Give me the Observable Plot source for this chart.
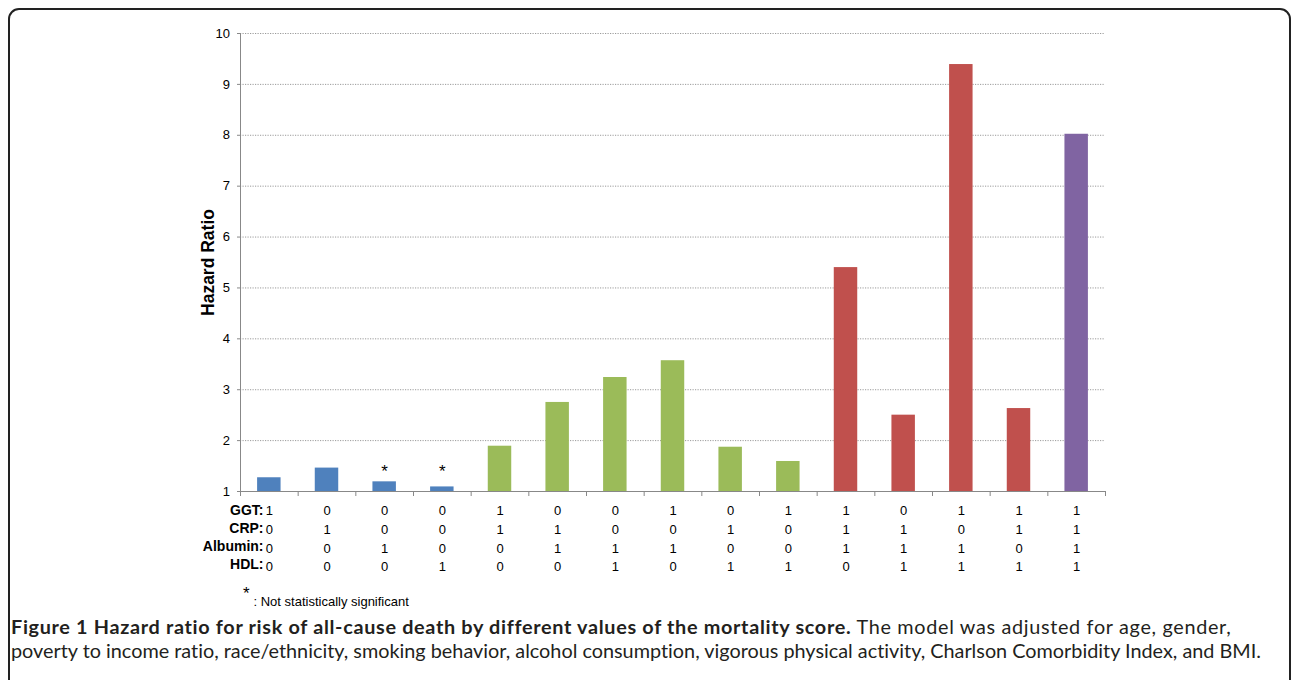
<!DOCTYPE html>
<html><head><meta charset="utf-8">
<script src="https://cdn.jsdelivr.net/npm/d3@7"></script>
<script src="https://cdn.jsdelivr.net/npm/@observablehq/plot@0.6"></script>
<style>
html,body{margin:0;padding:0;background:#fff;width:1292px;height:680px;overflow:hidden;}
#frame{position:absolute;left:8px;top:8px;width:1283px;height:720px;box-sizing:border-box;border:2px solid #222;border-radius:11px;}
#chart{position:absolute;left:0;top:0;}
#caption{position:absolute;left:11px;top:614px;font-family:Lato,"Open Sans",sans-serif;font-size:18px;line-height:24px;color:#231f20;white-space:nowrap;}
#caption b{font-weight:700}
g[aria-label="y-axis tick"], g[aria-label="x-axis tick"]{color:#888}
g[aria-label="y-axis"] line, g[aria-label="x-axis"] line{stroke:#888}
</style></head><body>
<div id="frame"></div>
<div id="chart"></div>
<div id="caption">
<div><span id="capb"><b>Figure 1 Hazard ratio for risk of all-cause death by different values of the mortality score.</b></span><span id="capn"> The model was adjusted for age, gender,</span></div>
<div><span id="cap2">poverty to income ratio, race/ethnicity, smoking behavior, alcohol consumption, vigorous physical activity, Charlson Comorbidity Index, and BMI.</span></div>
</div>
<script>
// ---- data ----
const categories = ["1","2","3","4","5","6","7","8","9","10","11","12","13","14","15"];
const hazardRatio = [1.27, 1.46, 1.19, 1.09, 1.89, 2.75, 3.24, 3.57, 1.87, 1.59, 5.40, 2.50, 9.39, 2.63, 8.02];
const ggt     = [1,0,0,0,1,0,0,1,0,1,1,0,1,1,1];
const crp     = [0,1,0,0,1,1,0,0,1,0,1,1,0,1,1];
const albumin = [0,0,1,0,0,1,1,1,0,0,1,1,1,0,1];
const hdl     = [0,0,0,1,0,0,1,0,1,1,0,1,1,1,1];
const markerCount = [1,1,1,1,2,2,2,2,2,2,3,3,3,3,4];
const significant = [true,true,false,false,true,true,true,true,true,true,true,true,true,true,true];
const yTicks = [1,2,3,4,5,6,7,8,9,10];
const rowNames = ["GGT:", "CRP:", "Albumin:", "HDL:"];
const rowKeys = ["ggt", "crp", "albumin", "hdl"];
const footnoteStar = "*";
const footnoteText = ": Not statistically significant";
const yLabel = "Hazard Ratio";
const colors = ["#4F81BD", "#9BBB59", "#C0504D", "#8064A2"];

const rows = categories.map((c, i) => ({
  i, cat: c, hr: hazardRatio[i], ggt: ggt[i], crp: crp[i], albumin: albumin[i], hdl: hdl[i],
  count: markerCount[i], sig: significant[i]
}));

const baseline = 1;
const valueDy = [23.5, 42, 61, 79.5];
const labelDy = [23, 41.3, 59.5, 77.7];

const marks = [
  Plot.ruleY(yTicks.slice(1), {stroke: "#9a9a9a", strokeDasharray: "1.2,1.3", strokeWidth: 1}),
  Plot.rectY(rows, {x1: "i", x2: d => d.i + 1, y1: () => baseline, y2: "hr", fill: "count", insetLeft: 17.1, insetRight: 17.1}),
  Plot.ruleX([0], {y1: 1, y2: 10, stroke: "#888"}),
  Plot.ruleY([baseline], {stroke: "#888"}),
  Plot.text(rows.filter(d => !d.sig), {x: d => d.i + 0.5, frameAnchor: "bottom", dy: -15, text: () => "*", fontSize: 17, fill: "#000"}),
  Plot.text([yLabel], {frameAnchor: "left", dx: -32.5, rotate: -90, textAnchor: "middle", fontSize: 17.5, fontWeight: "bold", fill: "#000"}),
  Plot.text([footnoteStar], {frameAnchor: "bottom-left", dx: 2.5, dy: 107, fontSize: 17, fill: "#000"}),
  Plot.text([footnoteText], {frameAnchor: "bottom-left", dx: 13, dy: 114.5, textAnchor: "start", fontSize: 13, fill: "#000"})
];
rowKeys.forEach((k, r) => {
  marks.push(Plot.text(rows, {x: d => d.i + 0.5, frameAnchor: "bottom", dy: valueDy[r], text: d => String(d[k]), fontSize: 13, fill: "#000"}));
  marks.push(Plot.text([rowNames[r]], {frameAnchor: "bottom-left", dx: 23, dy: labelDy[r], textAnchor: "end", fontSize: 14, fontWeight: "bold", fill: "#000"}));
});

const chart = Plot.plot({
  width: 1292, height: 615,
  marginLeft: 240, marginRight: 187, marginTop: 33, marginBottom: 124,
  x: {domain: [0, 15], ticks: d3.range(0, 16), tickSize: 5, tickFormat: () => "", label: null},
  y: {domain: [1, 10], ticks: yTicks, tickSize: 3, tickPadding: 7.5, label: null},
  color: {type: "ordinal", domain: [1, 2, 3, 4], range: colors},
  style: {fontFamily: "'Liberation Sans', Arial, sans-serif", fontSize: "13px", color: "#000", background: "transparent", overflow: "visible"},
  marks
});
document.getElementById("chart").appendChild(chart);

// fit caption font size to the reference line widths
const cap = document.getElementById("caption");
const c2 = document.getElementById("cap2");
const w2 = c2.getBoundingClientRect().width;
const fs = 18 * 1251 / w2;
cap.style.fontSize = fs + "px";
function fit(id, target) {
  const el = document.getElementById(id);
  el.style.letterSpacing = "0px";
  const w = el.getBoundingClientRect().width;
  const n = el.textContent.length;
  el.style.letterSpacing = ((target - w) / n) + "px";
}
fit("capb", 840);
fit("capn", 380);
fit("cap2", 1251);
</script>
</body></html>
